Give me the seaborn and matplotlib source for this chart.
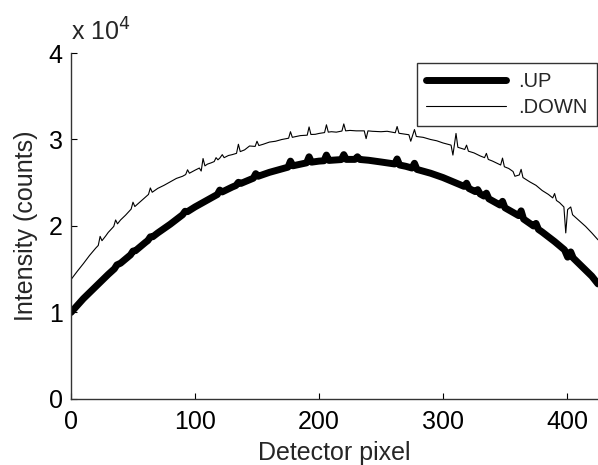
import matplotlib
matplotlib.use("Agg")
import matplotlib.pyplot as plt
import seaborn as sns
import pandas as pd
from matplotlib.ticker import FuncFormatter

up_x = [0, 10, 20, 30, 35, 37, 40, 48, 50, 52, 60, 62, 64, 66, 70, 80, 90, 92, 94, 100,
        110, 118, 120, 122, 130, 133, 135, 137, 140, 147, 149, 151, 160, 170, 175, 177, 179,
        190, 192, 194, 200, 204, 206, 208, 210, 218, 220, 222, 229, 231, 233, 240, 250, 261,
        263, 265, 270, 275, 277, 279, 290, 300, 310, 317, 319, 321, 326, 328, 330, 333, 335,
        337, 340, 346, 348, 350, 361, 363, 365, 370, 373, 375, 377, 380, 390, 398, 400.5, 403,
        405, 410, 420, 425]
up_y = [10000, 11600, 13000, 14400, 15050, 15500, 15700, 16660, 17100, 17140, 18100, 18320,
        18750, 18760, 19200, 20200, 21300, 21700, 21660, 22200, 23000, 23640, 24150, 23940,
        24500, 24680, 25050, 24920, 25100, 25520, 26050, 25750, 26200, 26600, 26800, 27500,
        26960, 27300, 28000, 27380, 27500, 27540, 28200, 27580, 27600, 27680, 28250, 27700,
        27700, 28000, 27690, 27600, 27400, 27170, 27750, 27050, 26900, 26700, 27250, 26540,
        26100, 25600, 25000, 24580, 24950, 24330, 23980, 24200, 23700, 23460, 23800, 23140,
        22900, 22420, 22850, 22100, 21200, 21750, 20800, 20300, 20000, 20300, 19600, 19300,
        18200, 17240, 16400, 17000, 16300, 15600, 14200, 13300]

down_x = [0, 5, 10, 15, 20, 22, 23.5, 25, 28, 30, 34.5, 36, 37.5, 40, 44, 48.5, 50, 51.5, 55,
          60, 62.5, 64, 65.5, 70, 75, 80, 85, 90, 92.5, 94, 95.5, 100, 103.5, 105, 106.5, 108,
          110, 113, 115.5, 117, 118.5, 120, 122, 123.5, 127, 130, 133.5, 135, 136.5, 140, 144,
          148.5, 150, 151.5, 155, 160, 165, 170, 175.5, 177, 178.5, 180, 185, 190.5, 192, 193.5,
          197, 200, 204.5, 206, 207.5, 210, 214, 218.5, 220, 221.5, 225, 230, 236.5, 238, 239.5,
          243, 250, 255, 261.5, 263, 264.5, 270, 272.5, 274, 277, 278.5, 284, 290, 295, 300,
          306.5, 308, 310.5, 312, 317.5, 319, 320.5, 325, 330, 333.5, 335, 336.5, 340, 346.5,
          348, 349.5, 353, 356.5, 358, 361.5, 363, 364.5, 370, 375, 380, 385, 388.5, 390, 391.5,
          394, 397.5, 399, 400.5, 403, 404.5, 410, 415, 420, 425]
down_y = [13800, 14750, 15650, 16600, 17450, 17750, 18800, 18300, 18850, 19250, 19950, 20700,
          20250, 20700, 21250, 21950, 22750, 22250, 22700, 23350, 23650, 24400, 23900, 24350,
          24700, 25100, 25500, 25750, 25950, 26500, 26100, 26450, 26700, 26350, 27800, 26950,
          27150, 27300, 27450, 27900, 27650, 27850, 28250, 27900, 28150, 28250, 28400, 29450,
          28600, 28800, 29250, 29200, 29800, 29300, 29450, 29700, 29800, 30000, 30150, 30900,
          30250, 30300, 30450, 30500, 31450, 30580, 30600, 30700, 30800, 31700, 30850, 30900,
          30850, 30980, 31800, 31000, 31050, 31000, 31000, 30100, 31000, 30950, 30900, 30950,
          30780, 31500, 30720, 30600, 30550, 29800, 31150, 30350, 30250, 30000, 29850, 29600,
          29350, 28200, 30700, 29100, 28850, 29350, 28650, 28450, 28100, 27900, 28400, 27700,
          27500, 27050, 27850, 26850, 26650, 26300, 25750, 25900, 26550, 25600, 25100, 24700,
          24100, 23650, 23250, 23750, 22950, 22700, 22200, 19200, 21900, 22200, 21300, 20600,
          19950, 19200, 18400]

x_ticks = [0, 100, 200, 300, 400]
y_ticks = [0, 10000, 20000, 30000, 40000]

sns.set_style("ticks")
plt.rcParams['font.family'] = ['Liberation Sans', 'DejaVu Sans']

fig = plt.figure(figsize=(5.98, 4.65), dpi=100)
ax = fig.add_axes([0.1187, 0.142, 0.8813, 0.744])

df_up = pd.DataFrame({"x": up_x, "y": up_y})
df_down = pd.DataFrame({"x": down_x, "y": down_y})
sns.lineplot(data=df_up, x="x", y="y", ax=ax, color="black", linewidth=5,
             estimator=None, label=".UP")
sns.lineplot(data=df_down, x="x", y="y", ax=ax, color="black", linewidth=0.8,
             estimator=None, label=".DOWN")

ax.set_xlim(0, 425)
ax.set_ylim(0, 40000)
ax.set_xticks(x_ticks)
ax.set_yticks(y_ticks)
ax.yaxis.set_major_formatter(FuncFormatter(lambda v, p: f"{v/1e4:g}"))
ax.tick_params(direction="in", length=4, width=0.8, labelsize=18, pad=6, colors="black")
ax.tick_params(axis="x", pad=8)
for s in ["top", "right"]:
    ax.spines[s].set_visible(False)
for s in ["left", "bottom"]:
    ax.spines[s].set_color("#333333")
    ax.spines[s].set_linewidth(1.0)

ax.set_xlabel("Detector pixel", fontsize=18, labelpad=5)
ax.set_ylabel("Intensity (counts)", fontsize=18, labelpad=8)
ax.text(0.0, 1.02, "x 10$^{4}$", transform=ax.transAxes, fontsize=18,
        ha="left", va="bottom")

leg = ax.legend(loc="upper right", bbox_to_anchor=(0.998, 0.972), fontsize=14.5,
                frameon=True, fancybox=False, handlelength=4.0, borderpad=0.45,
                labelspacing=0.35, handletextpad=0.6, borderaxespad=0)
leg.get_frame().set_edgecolor("black")
leg.get_frame().set_linewidth(1.0)

fig.savefig("out.png", dpi=100)
